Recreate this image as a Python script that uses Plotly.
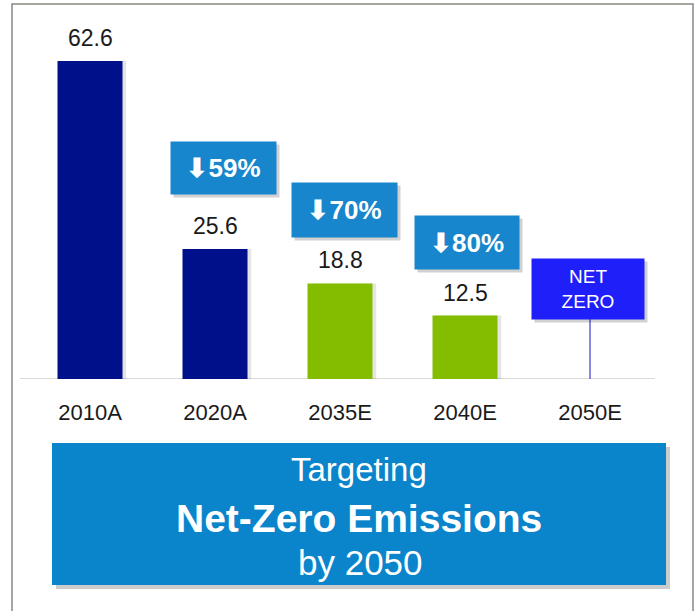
import plotly.graph_objects as go

# data
years = ['2010A', '2020A', '2035E', '2040E', '2050E']
emissions = [62.6, 25.6, 18.8, 12.5, 0]
bar_colors = ['#000f8a', '#000f8a', '#84bd00', '#84bd00', '#1f1ffa']
cut_years = ['2020A', '2035E', '2040E']
cut_labels = ['59%', '70%', '80%']
cut_levels = [41.5, 33.3, 26.9]
net_zero_level = 17.7
stem_top = 11.8

W, H = 699, 611
FONT = 'Liberation Sans, Arial, sans-serif'


def px(x):
    return x / W


def py(y):
    return (H - y) / H


fig = go.Figure()

# soft shadow to the right of the bars
fig.add_trace(go.Bar(
    x=years[:4], y=emissions[:4], width=0.52, offset=-0.26 + 0.03,
    marker=dict(color='rgba(0,0,0,0.10)', line=dict(width=0)),
    hoverinfo='skip', showlegend=False,
))
fig.add_trace(go.Bar(
    x=years, y=emissions, width=0.52, offset=-0.26,
    marker=dict(color=bar_colors, line=dict(width=0)),
    hoverinfo='x+y', showlegend=False,
))

# stem under the NET ZERO box
fig.add_trace(go.Scatter(
    x=[years[-1], years[-1]], y=[0, stem_top], mode='lines',
    line=dict(color='#3b3bd6', width=1.2), hoverinfo='skip', showlegend=False,
))

annotations = []

# value labels
for yr, v in zip(years[:4], emissions[:4]):
    annotations.append(dict(
        x=yr, y=v, text=f'{v:.1f}', showarrow=False, yanchor='bottom', yshift=8,
        font=dict(family=FONT, size=23, color='#1a1a1a'),
    ))

# reduction callouts, with a soft shadow underneath
shifts = [8, 4.5, 2]
sizes = [(105, 52), (105, 54), (104, 53)]
for yr, lab, lvl, xs, (bw, bh) in zip(cut_years, cut_labels, cut_levels, shifts, sizes):
    annotations.append(dict(
        x=yr, y=lvl, text='', showarrow=False, xshift=xs + 3, yshift=-3,
        width=bw, height=bh, borderpad=0, bgcolor='rgba(0,0,0,0.18)',
    ))
    annotations.append(dict(
        x=yr, y=lvl, text=f'<b>\u2b07{lab}</b>', showarrow=False, xshift=xs,
        width=bw, height=bh, borderpad=0, bgcolor='#1786cc',
        font=dict(family=FONT, size=26, color='white'),
    ))

# NET ZERO box
annotations.append(dict(
    x=years[-1], y=net_zero_level, text='', showarrow=False, xshift=1, yshift=-3,
    width=112, height=60, borderpad=0, bgcolor='rgba(0,0,0,0.18)',
))
annotations.append(dict(
    x=years[-1], y=net_zero_level, text='NET<br>ZERO', showarrow=False, xshift=-2,
    width=112, height=60, borderpad=0, bgcolor='#1f1ffa',
    font=dict(family=FONT, size=19, color='white'),
))

# banner text
annotations += [
    dict(xref='paper', yref='paper', x=px(359), y=py(470), yanchor='middle', text='Targeting',
         showarrow=False, font=dict(family=FONT, size=33, color='white')),
    dict(xref='paper', yref='paper', x=px(359), y=py(518), yanchor='middle',
         text='<b>Net-Zero Emissions</b>',
         showarrow=False, font=dict(family=FONT, size=39, color='white')),
    dict(xref='paper', yref='paper', x=px(360), y=py(562), yanchor='middle', text='by 2050',
         showarrow=False, font=dict(family=FONT, size=35, color='white')),
]

shapes = [
    # outer frame
    dict(type='rect', xref='paper', yref='paper', x0=px(12), x1=px(693), y0=-0.05, y1=py(4),
         line=dict(color='#8c8680', width=1.5), layer='below'),
    # baseline
    dict(type='line', xref='paper', yref='y', x0=px(20), x1=px(655), y0=0, y1=0,
         line=dict(color='#dadada', width=2), layer='below'),
    # banner shadow + banner
    dict(type='rect', xref='paper', yref='paper', x0=px(56), x1=px(670), y0=py(589), y1=py(447),
         fillcolor='rgba(0,0,0,0.2)', line=dict(width=0), layer='below'),
    dict(type='rect', xref='paper', yref='paper', x0=px(52), x1=px(666), y0=py(585), y1=py(443),
         fillcolor='#0a84ca', line=dict(width=0), layer='below'),
]

fig.update_layout(
    width=W, height=H,
    margin=dict(l=0, r=0, t=0, b=0),
    paper_bgcolor='white', plot_bgcolor='rgba(0,0,0,0)',
    xaxis=dict(domain=[px(27.5), px(652.5)], range=[-0.5, 4.5], showgrid=False,
               zeroline=False, showline=False, ticks='outside', ticklen=14,
               tickcolor='rgba(0,0,0,0)',
               tickfont=dict(family=FONT, size=22, color='#1a1a1a')),
    yaxis=dict(domain=[py(379), py(40)], range=[0, 66.73], visible=False),
    annotations=annotations,
    shapes=shapes,
    barmode='overlay',
)

# drop the page's default body margin so the figure sits at the window corner
fig.write_html('out.html', config={'displayModeBar': False},
               post_script="document.body.style.margin='0';document.body.style.overflow='hidden';")
